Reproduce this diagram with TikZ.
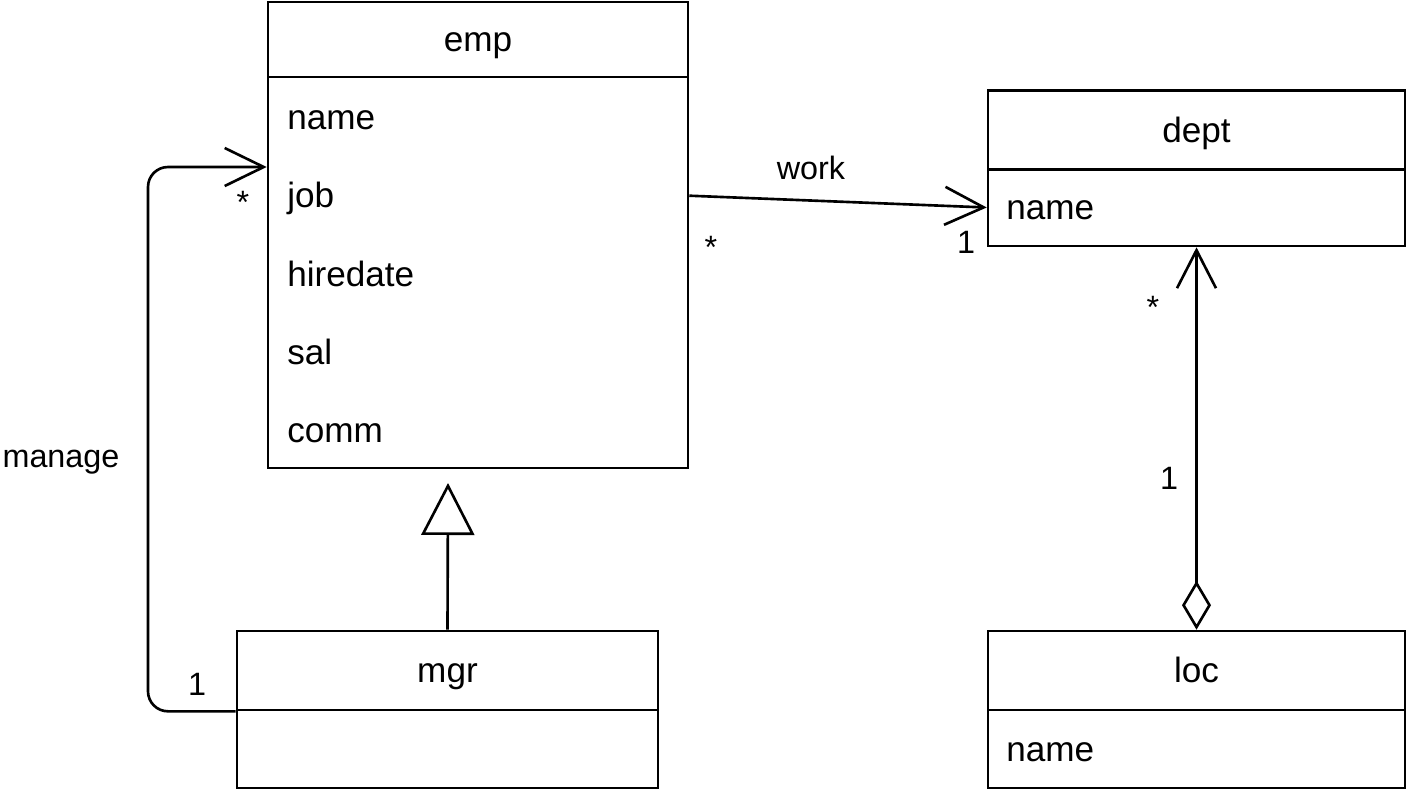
\documentclass[tikz,border=0pt]{standalone}
\usepackage{fontspec}
\setmainfont{Liberation Sans}
\usetikzlibrary{arrows.meta}

\begin{document}
\begin{tikzpicture}[x=0.02cm, y=-0.02cm, line width=1.5pt,
        font=\fontsize{20}{24}\selectfont,
        txt/.style={text height=18pt, text depth=4.2pt, inner sep=0pt},
        lbl/.style={font=\fontsize{18.4}{22}\selectfont, text height=16.65pt, text depth=3.9pt, inner sep=0pt},
        classbox/.style={draw, txt},
        attr/.style={txt, anchor=west},
        assoc/.style={-{Straight Barb[length=0.78cm, width=0.76cm]}}]
        \useasboundingbox (0,0) rectangle (1410,798);

        % Classes
        \node[classbox, minimum width=8.4cm, minimum height=1.5cm] (emphead) at (478,39.5) {emp};
        \node[classbox, minimum width=8.4cm, minimum height=7.82cm] (empbody) at (478,272.5) {};
        \node[classbox, minimum width=8.34cm, minimum height=1.58cm] (depthead) at (1196.5,130) {dept};
        \node[classbox, minimum width=8.34cm, minimum height=1.54cm] (deptbody) at (1196.5,207.5) {};
        \node[classbox, minimum width=8.42cm, minimum height=1.58cm] (mgrhead) at (447.5,670.5) {mgr};
        \node[classbox, minimum width=8.42cm, minimum height=1.56cm] (mgrbody) at (447.5,749) {};
        \node[classbox, minimum width=8.34cm, minimum height=1.58cm] (lochead) at (1196.5,670.5) {loc};
        \node[classbox, minimum width=8.34cm, minimum height=1.56cm] (locbody) at (1196.5,749) {};

        % Attributes
        \node[attr] (empname) at (286,117.7) {name};
        \node[attr] (empjob) at (286,195.7) {job};
        \node[attr] (emphire) at (286,274.7) {hiredate};
        \node[attr] (empsal) at (286,352.7) {sal};
        \node[attr] (empcomm) at (286,430.7) {comm};
        \node[attr] (deptname) at (1005,207.5) {name};
        \node[attr] (locname) at (1005,749) {name};

        % Relations
        \draw[assoc] (empjob -| empbody.east) -- (deptname -| deptbody.west);
        \coordinate (mgrloop) at (148,167);
        \draw[assoc, rounded corners=0.4cm] (mgrhead.south west) -| (mgrloop) -- (mgrloop -| empbody.west);
        \coordinate (gentip) at (448,483);
        \draw[-{Triangle[open, length=1.04cm, width=1.06cm]}] (mgrhead.north) -- (gentip);
        \draw[{Diamond[open, length=0.98cm, width=0.58cm]}-{Straight Barb[length=0.76cm, width=0.78cm]}] (lochead.north) -- (deptbody.south);

        % Labels
        \node[lbl] (worklabel) at (811,167.8) {work};
        \node[lbl] (managelabel) at (61,456.5) {manage};
        \node[lbl] (workfrom) at (711,247) {*};
        \node[lbl] (workto) at (966,241.8) {1};
        \node[lbl] (manageto) at (243,202) {*};
        \node[lbl] (managefrom) at (197,683.8) {1};
        \node[lbl] (locto) at (1153,307) {*};
        \node[lbl] (locfrom) at (1169,477.8) {1};
    \end{tikzpicture}
\end{document}
